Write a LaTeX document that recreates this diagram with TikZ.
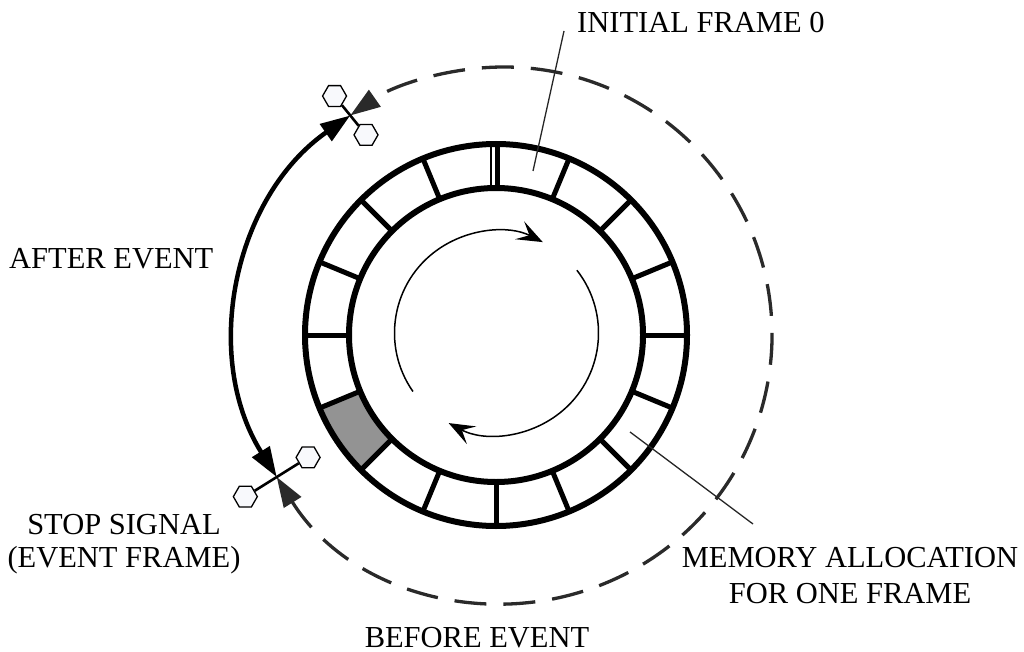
\documentclass[tikz,border=0pt]{standalone}
\usepackage{fontspec}
\setmainfont{Liberation Serif}
\usetikzlibrary{calc,arrows.meta,shapes.geometric}

\definecolor{slotgray}{HTML}{939393}
\definecolor{dashink}{HTML}{2A2A2A}
\definecolor{hexfill}{HTML}{F8F9FC}

\tikzset{
  label text/.style={inner sep=0pt, font=\fontsize{30.5}{33}\selectfont},
  ring line/.style={line width=6pt, black},
  divider/.style={line width=5pt, black},
  leader/.style={line width=1.3pt, black!85},
  cycle arrow/.style={line width=1.5pt, black,
    -{Stealth[length=26pt, width=20pt, inset=11pt]}},
  after arc/.style={line width=4.5pt, black,
    {Triangle[length=30pt, width=20pt]}-{Triangle[length=30pt, width=20pt]}},
  before arc/.style={line width=3.3pt, dashink, dash pattern=on 32pt off 17pt,
    {Triangle[length=30pt, width=20pt]}-{Triangle[length=30pt, width=20pt]}},
  hexend/.style={regular polygon, regular polygon sides=6, draw=black,
    line width=1.3pt, fill=hexfill, minimum size=24pt, inner sep=0pt},
  marker bar/.style={line width=2.6pt, black}
}

\begin{document}
\begin{tikzpicture}[x=1pt, y=1pt]
  \useasboundingbox (0,0) rectangle (1024,-652);

  % centres of the frame ring, the cycle arrows and the event circle
  \coordinate (rc) at (496,-335);
  \coordinate (ic) at (496.5,-333);
  \coordinate (ec) at (504,-335);

  % the frame now held in memory
  \fill[slotgray] ($(rc)+(202.5:147)$) arc[start angle=202.5, end angle=225, radius=147]
    -- ($(rc)+(225:191)$) arc[start angle=225, end angle=202.5, radius=191] -- cycle;

  % ring of sixteen frame slots
  \draw[ring line] (rc) circle[radius=191];
  \draw[ring line] (rc) circle[radius=147];
  \foreach \a in {0,22.5,45,67.5,112.5,135,157.5,180,202.5,225,247.5,270,292.5,315,337.5}
    \draw[divider] ($(rc)+(\a:147)$) -- ($(rc)+(\a:191)$);
  % double divider at the start of the buffer
  \draw[divider] (497,-190) -- (497,-142);
  \draw[line width=2pt] (491,-190) -- (491,-142);

  % direction of writing round the ring
  \draw[cycle arrow] ($(ic)+(215:102)$) arc[start angle=215, end angle=63, radius=102];
  \draw[cycle arrow] ($(ic)+(38:102)$) arc[start angle=38, end angle=-118, radius=102];

  % event timeline round the ring
  \coordinate (stopA) at ($(ec)+(125:268)$);
  \coordinate (stopB) at ($(ec)+(212:268)$);
  \draw[after arc] (stopA) arc[start angle=125, end angle=212, radius=268];
  \draw[before arc] (stopB) arc[start angle=212, end angle=485, radius=268];

  % stop markers
  \node[hexend] (hA1) at ($(stopA)+(129:25)$) {};
  \node[hexend] (hA2) at ($(stopA)+(-51:25)$) {};
  \draw[marker bar] (hA1) -- (hA2);
  \node[hexend] (hB1) at ($(stopB)+(32:37)$) {};
  \node[hexend] (hB2) at ($(stopB)+(212:37)$) {};
  \draw[marker bar] (hB1) -- (hB2);

  % labels
  \node[label text, anchor=base west] (initial) at (577,-33) {INITIAL FRAME 0};
  \node[label text, anchor=base west] (after) at (9,-268) {AFTER EVENT};
  \node[label text, anchor=base, align=center] (stop) at (124,-567)
    {STOP SIGNAL\\(EVENT FRAME)};
  \node[label text, anchor=base, align=center, font=\fontsize{30.5}{36}\selectfont]
    (memory) at (850,-603) {MEMORY ALLOCATION\\FOR ONE FRAME};
  \node[label text, anchor=base] (before) at (477,-647) {BEFORE EVENT};

  % leader lines
  \coordinate (initialTip) at (533,-171);
  \coordinate (initialEnd) at (564,-31);
  \draw[leader] (initialEnd) -- (initialTip);
  \coordinate (memoryTip) at (630,-432);
  \coordinate (memoryEnd) at (753,-524);
  \draw[leader] (memoryTip) -- (memoryEnd);
\end{tikzpicture}
\end{document}
